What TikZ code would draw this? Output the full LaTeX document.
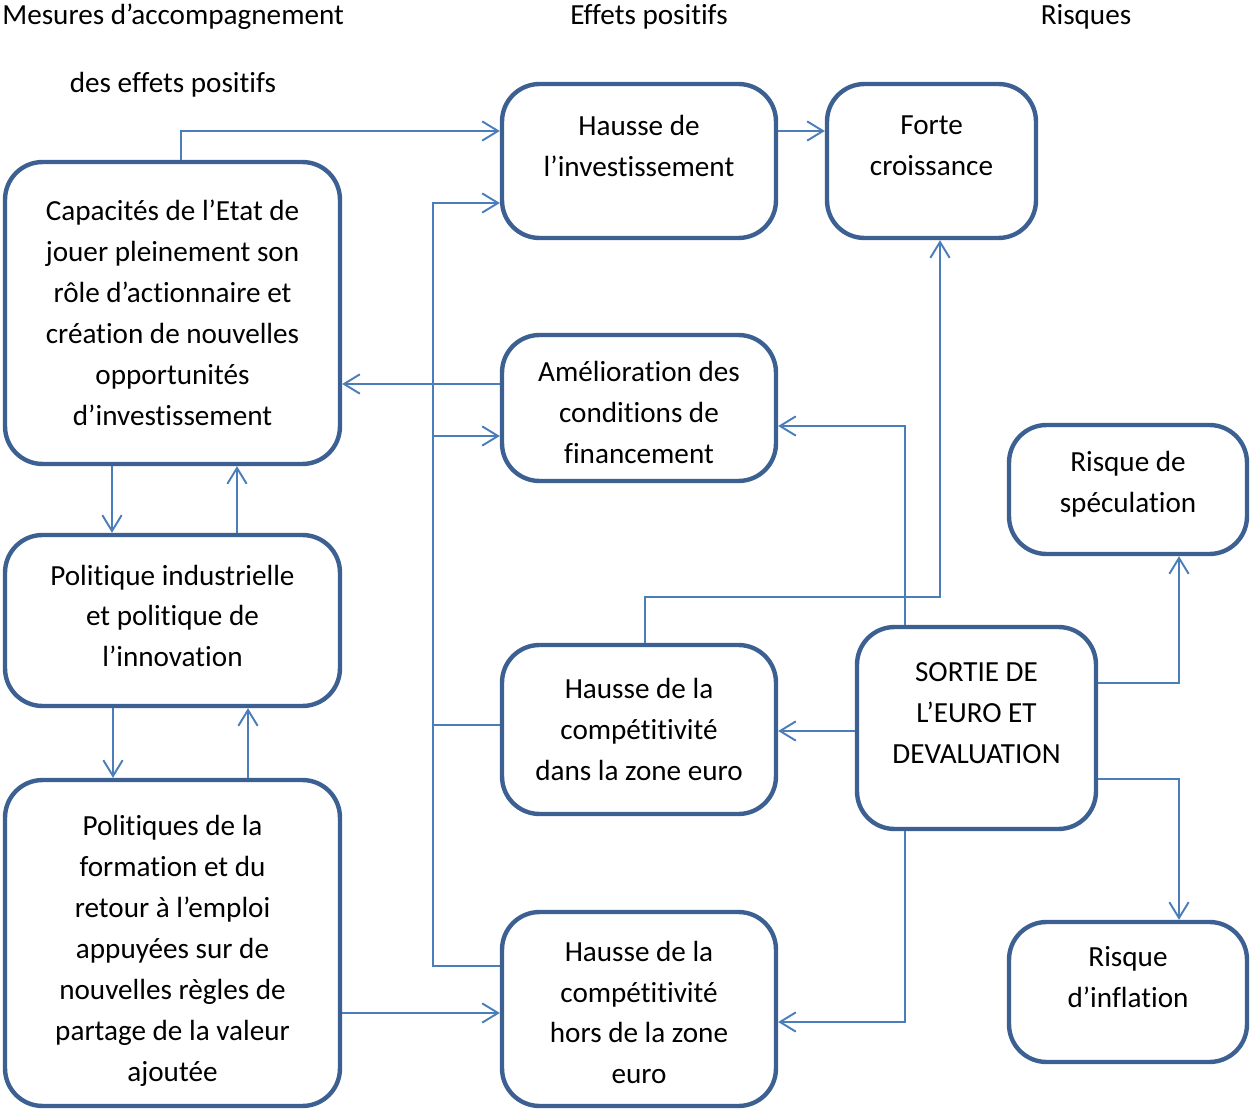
\documentclass[tikz,border=0pt]{standalone}
\usepackage{fontspec}
\setmainfont[Ligatures=NoCommon]{Carlito}
\usepackage{tikz}
\usetikzlibrary{arrows.meta}
\definecolor{bordBleu}{RGB}{60,96,145}
\definecolor{lienBleu}{RGB}{74,126,187}

\begin{document}
\begin{tikzpicture}[x=0.02cm, y=-0.02cm,
    font=\fontsize{16.6}{23.3}\selectfont,
    boite/.style={draw=bordBleu, line width=2.5pt, rounded corners=0.75cm,
        align=center, inner sep=0pt, fill=white},
    trait/.style={draw=lienBleu, line width=1.1pt},
    lien/.style={trait, -{Straight Barb[length=9pt,width=11pt,line width=1.1pt]}}]

        \useasboundingbox (0,0) rectangle (1251,1111);

        %% titres
        \node[anchor=west, inner sep=0pt] (titreMesures) at (2,17) {Mesures d’accompagnement};
        \node[inner sep=0pt] (titreMesuresB) at (173,85) {des effets positifs};
        \node[inner sep=0pt] (titreEffets) at (649,17) {Effets positifs};
        \node[inner sep=0pt] (titreRisques) at (1086,17) {Risques};

        %% boites
        \node[boite, minimum width=6.7cm, minimum height=6.04cm] (cap) at (172.5,313)
            {Capacités de l’Etat de\\jouer pleinement son\\rôle d’actionnaire et\\création de nouvelles\\opportunités\\d’investissement};
        \node[boite, minimum width=6.7cm, minimum height=3.42cm] (pol) at (172.5,620.5)
            {Politique industrielle\\et politique de\\l’innovation\\[-18pt]\mbox{}};
        \node[boite, minimum width=6.7cm, minimum height=6.52cm] (form) at (172.5,943)
            {\mbox{}\\[-2.6pt]Politiques de la\\formation et du\\retour à l’emploi\\appuyées sur de\\nouvelles règles de\\partage de la valeur\\ajoutée};
        \node[boite, minimum width=5.48cm, minimum height=3.08cm] (hinv) at (639,161)
            {Hausse de\\l’investissement\\[-6pt]\mbox{}};
        \node[boite, minimum width=4.18cm, minimum height=3.08cm] (forte) at (931.5,161)
            {Forte\\croissance\\[-6pt]\mbox{}};
        \node[boite, minimum width=5.48cm, minimum height=2.92cm] (amel) at (639,408)
            {\mbox{}\\[-6.6pt]Amélioration des\\conditions de\\financement};
        \node[boite, minimum width=5.48cm, minimum height=3.38cm] (hzone) at (639,729.5)
            {Hausse de la\\compétitivité\\dans la zone euro};
        \node[boite, minimum width=5.48cm, minimum height=3.88cm] (hhors) at (639,1009)
            {\mbox{}\\[-7.8pt]Hausse de la\\compétitivité\\hors de la zone\\euro};
        \node[boite, minimum width=4.78cm, minimum height=4.04cm] (sortie) at (976.5,728)
            {SORTIE DE\\L’EURO ET\\DEVALUATION\\[-6pt]\mbox{}};
        \node[boite, minimum width=4.76cm, minimum height=2.58cm] (spec) at (1128,489.5)
            {Risque de\\spéculation\\[-15pt]\mbox{}};
        \node[boite, minimum width=4.76cm, minimum height=2.8cm] (infl) at (1128,992)
            {Risque\\d’inflation\\[-6pt]\mbox{}};

        %% liens
        \draw[lien] (cap.north -| 181,0) |- (hinv.west |- 0,131);
        \draw[lien] (hinv.east |- 0,131) -- (forte.west |- 0,131);
        \draw[lien] (hhors.west |- 0,966) -| (433,203) -- (hinv.west |- 0,203); % colonne
        \draw[trait] (hzone.west |- 0,725) -- (433,725);
        \draw[lien] (433,436) -- (amel.west |- 0,436);
        \draw[lien] (amel.west |- 0,384) -- (cap.east |- 0,384);
        % aller-retour a gauche
        \draw[lien] (cap.south -| 112,0) -- (pol.north -| 112,0);
        \draw[lien] (pol.north -| 237,0) -- (cap.south -| 237,0);
        \draw[lien] (pol.south -| 113,0) -- (form.north -| 113,0);
        \draw[lien] (form.north -| 248,0) -- (pol.south -| 248,0);
        \draw[lien] (form.east |- 0,1013) -- (hhors.west |- 0,1013);
        % vers la croissance
        \draw[lien] (hzone.north -| 645,0) |- (940,597) -- (forte.south -| 940,0);
        % sortie de l'euro
        \draw[lien] (sortie.north -| 905,0) |- (amel.east |- 0,426);
        \draw[lien] (sortie.west |- 0,731) -- (hzone.east |- 0,731);
        \draw[lien] (sortie.south -| 905,0) |- (hhors.east |- 0,1022);
        \draw[lien] (sortie.east |- 0,683) -| (spec.south -| 1179,0);
        \draw[lien] (sortie.east |- 0,779) -| (infl.north -| 1179,0);
    \end{tikzpicture}
\end{document}
